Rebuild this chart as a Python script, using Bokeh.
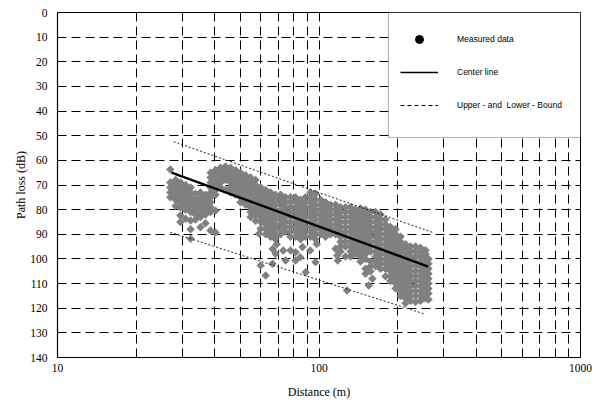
import math

from bokeh.embed import file_html
from bokeh.models import (BoxAnnotation, ColumnDataSource, FixedTicker, Legend,
                          LegendItem, NumeralTickFormatter, Range1d)
from bokeh.plotting import figure
from bokeh.resources import INLINE

# Measured path loss, grouped by distance: (distance in m, [path loss in dB])
near_columns = [
    (27.0, [63.7, 69, 71, 73, 75]),
    (28.3, [68, 70, 72, 74, 76, 78.5]),
    (29.5, [69, 71, 73, 75, 77, 79, 82.4, 85]),
    (30.9, [70, 72, 74, 76, 78, 80, 83.7]),
    (32.3, [71, 73, 75, 77, 79, 81, 84.4, 88, 91.8]),
    (33.7, [73.5, 76, 78, 80, 82, 84]),
    (35.2, [73, 75, 77, 79, 81, 83, 87.1]),
    (36.8, [74, 76, 78, 80, 82, 85.5]),
    (38.5, [65, 67, 69, 71, 73, 75, 77, 79, 81, 88.5]),
    (40.2, [64, 66, 68, 70, 72, 74, 80.4, 89.3]),
    (42.0, [63, 65, 67, 69, 71]),
    (43.9, [62.5, 64, 66, 68, 72]),
    (45.9, [63, 65, 67, 69, 71, 73]),
    (48.0, [64, 66, 68, 70, 72, 74]),
    (50.1, [65, 67, 69, 71, 73, 75, 77]),
    (52.4, [66, 68, 70, 72, 74, 76, 78]),
    (54.7, [67, 69, 71, 73, 75, 77, 79, 81, 83]),
    (57.2, [68, 70, 72, 74, 76, 78, 80, 82, 84.5]),
]

mid_columns = [
    (59.8, [71, 73, 75, 77, 79, 81, 83, 85, 87.8]),
    (62.5, [72, 74, 76, 78, 80, 82, 84, 86, 88, 90]),
    (65.3, [73, 75, 77, 79, 81, 83, 85, 87, 89, 91]),
    (68.2, [74, 76, 78, 80, 82, 84, 86, 88, 90, 92]),
    (71.3, [74, 76, 78, 80, 82, 84, 86, 88, 90]),
    (74.5, [75, 77, 79, 81, 83, 85, 87, 89]),
    (77.8, [75, 77, 79, 81, 83, 85, 87, 89, 91]),
    (81.3, [75, 77, 79, 81, 83, 85, 87, 89, 91]),
    (85.0, [76, 78, 80, 82, 84, 86, 88, 90, 92]),
    (88.8, [75, 77, 79, 81, 83, 85, 87, 89, 91]),
    (92.8, [73, 75, 77, 79, 81, 83, 85, 87, 89, 91]),
    (97.0, [73.5, 76, 78, 80, 82, 84, 86, 88, 90, 92]),
    (101.3, [76, 78, 80, 82, 84, 86, 88, 90]),
    (105.9, [77, 79, 81, 83, 85, 87, 89, 91]),
    (110.7, [78, 80, 82, 84, 86, 88, 90]),
    (115.7, [78, 80, 82, 84, 86, 88, 90]),
    (120.9, [79, 81, 83, 85, 87, 89, 91, 93, 95, 97]),
    (126.3, [79, 81, 83, 85, 87, 89, 91, 93, 95, 99]),
]

far_columns = [
    (132.0, [79, 81, 83, 85, 87, 89, 91, 93, 95, 97, 99]),
    (137.9, [80, 82, 84, 86, 88, 90, 92, 94, 96, 98]),
    (144.1, [79.5, 81, 83, 85, 87, 89, 91, 93, 95, 97, 99, 101]),
    (150.6, [80, 82, 84, 86, 88, 90, 92, 94, 96, 98, 100, 104, 106]),
    (157.4, [81, 83, 85, 87, 89, 91, 93, 95, 97, 101, 103, 105]),
    (164.5, [81, 83, 85, 87, 89, 91, 93, 95, 97, 99, 101, 103]),
    (171.9, [82, 84, 86, 88, 90, 92, 94, 96, 98, 100, 102, 104]),
    (179.6, [84, 86, 88, 90, 92, 94, 96, 98, 100, 102, 104, 107]),
    (187.7, [87, 89, 91, 93, 95, 97, 99, 101, 103, 105, 107, 109]),
    (196.2, [88, 90, 92, 94, 96, 98, 100, 102, 104, 106, 108, 110, 112]),
    (205.0, [91, 93, 95, 97, 99, 101, 103, 105, 107, 109, 111, 113, 115]),
    (214.2, [94, 96, 98, 100, 102, 104, 106, 108, 110, 112, 114, 116, 118]),
    (223.9, [95, 97, 99, 101, 103, 105, 107, 109, 111, 113, 115, 117]),
    (233.9, [95, 97, 99, 101, 103, 105, 107, 109, 111, 113, 115, 117.5]),
    (244.5, [95.5, 97.5, 99, 101, 103, 105, 107, 109, 111, 113, 115, 117]),
    (255.5, [96.5, 98, 100, 102, 104, 106, 108, 110, 112, 114, 116]),
    (262.2, [100, 102, 104, 106, 108, 110, 112, 114, 116.5]),
]

# Isolated samples away from the main cloud
stray_d = [59.0, 59.8, 62.5, 66.4, 66.5, 68.9, 68.2, 73.0, 74.5, 77.8, 81.3, 81.3,
           84.7, 86.5, 89.0, 92.5, 97.0, 98.0, 115.7, 117.5, 118.0, 128.0, 155.0, 160.0]
stray_loss = [89.8, 102.7, 106.7, 102.0, 96.0, 94.0, 97.9, 96.6, 100.6, 96.6, 97.3, 100.6,
              99.3, 95.2, 105.4, 96.6, 101.3, 93.9, 95.9, 98.6, 100.6, 112.8, 110.8, 108.0]

# Regression line and bounds (distance in m, path loss in dB)
center_d = [27.3, 261.5]
center_loss = [65.0, 103.1]
upper_d = [27.8, 271.0]
upper_loss = [52.4, 89.2]
lower_d = [27.0, 251.0]
lower_loss = [89.2, 122.2]

# Axis ticks
x_major_ticks = [10, 100, 1000]
x_minor_ticks = [20, 30, 40, 50, 60, 70, 80, 90, 200, 300, 400, 500, 600, 700, 800, 900]
y_ticks = list(range(0, 141, 10))

distance = []
path_loss = []
for columns in (near_columns, mid_columns, far_columns):
    for d, losses in columns:
        for v in losses:
            distance.append(d)
            path_loss.append(v)
distance += stray_d
path_loss += stray_loss

p = figure(width=604, height=412, x_axis_type="log",
           x_range=Range1d(10, 1000), y_range=Range1d(140, 0),
           output_backend="svg", toolbar_location=None,
           min_border_left=57, min_border_right=24,
           min_border_top=12, min_border_bottom=55)

p.background_fill_color = "white"
p.border_fill_color = "white"
p.outline_line_color = "black"
p.outline_line_width = 1

p.xaxis.ticker = FixedTicker(ticks=x_major_ticks, minor_ticks=x_minor_ticks)
p.yaxis.ticker = FixedTicker(ticks=y_ticks)
p.xaxis.formatter = NumeralTickFormatter(format="0")

# dashed grid on every major and minor tick
p.xgrid.grid_line_color = "black"
p.xgrid.grid_line_dash = "9 5"
p.xgrid.minor_grid_line_color = "black"
p.xgrid.minor_grid_line_dash = "9 5"
p.ygrid.grid_line_color = "black"
p.ygrid.grid_line_dash = "9 5"

for ax in (p.xaxis[0], p.yaxis[0]):
    ax.axis_line_color = "black"
    ax.axis_line_width = 1.2
    ax.major_label_text_font = "Liberation Serif"
    ax.major_label_text_font_size = "11.5px"
    ax.major_label_text_color = "black"
    ax.axis_label_text_font = "Liberation Serif"
    ax.axis_label_text_font_size = "12px"
    ax.axis_label_text_font_style = "normal"
    ax.axis_label_text_color = "black"

p.xaxis.axis_label = "Distance (m)"
p.yaxis.axis_label = "Path loss (dB)"

p.yaxis.major_tick_out = 0
p.yaxis.major_tick_in = 0
p.yaxis.minor_tick_out = 0
p.yaxis.minor_tick_in = 0
p.yaxis.major_label_standoff = 10
p.yaxis.axis_label_standoff = -1

p.xaxis.major_tick_out = 0
p.xaxis.major_tick_in = 5
p.xaxis.minor_tick_out = 0
p.xaxis.minor_tick_in = 5
p.xaxis.major_tick_line_color = "black"
p.xaxis.minor_tick_line_color = "black"
p.xaxis.major_label_standoff = 6
p.xaxis.axis_label_standoff = 10

# measured samples as small grey diamonds
p.scatter(distance, path_loss, marker="square", angle=math.pi / 4, size=6,
          fill_color="#808080", line_color=None)

# bounds and centre line
p.line(upper_d, upper_loss, line_color="#222222", line_width=1, line_dash="2 2")
p.line(lower_d, lower_loss, line_color="#222222", line_width=1, line_dash="2 2")
p.line(center_d, center_loss, line_color="black", line_width=2.4)

# legend frame in the upper right corner
legend_frame = BoxAnnotation(left=184.4, right=1000, top=0, bottom=50.7,
                             fill_color="white", fill_alpha=1.0,
                             line_color="black", line_width=1)
p.add_layout(legend_frame)

# key-only renderers (a single undefined point, so nothing shows in the plot area)
nan = float("nan")
key_src = ColumnDataSource(data=dict(x=[nan], y=[nan]))
key_point = p.scatter("x", "y", source=key_src, marker="circle", size=8,
                      fill_color="black", line_color="black")
key_center = p.line("x", "y", source=key_src, line_color="black", line_width=1.5)
key_bound = p.line("x", "y", source=key_src, line_color="black", line_width=1.2,
                   line_dash="4 3")

legend = Legend(
    items=[
        LegendItem(label="Measured data", renderers=[key_point]),
        LegendItem(label="Center line", renderers=[key_center]),
        LegendItem(label="Upper - and  Lower - Bound", renderers=[key_bound]),
    ],
    location=(333, 232), orientation="vertical",
    glyph_width=38, glyph_height=20, label_height=20, label_standoff=19,
    spacing=13, padding=10, margin=0,
    border_line_alpha=0, background_fill_alpha=0,
    label_text_font="Liberation Sans", label_text_font_size="8.5px",
    label_text_color="black",
)
p.add_layout(legend)

open("out.html", "w").write(file_html(p, INLINE))
